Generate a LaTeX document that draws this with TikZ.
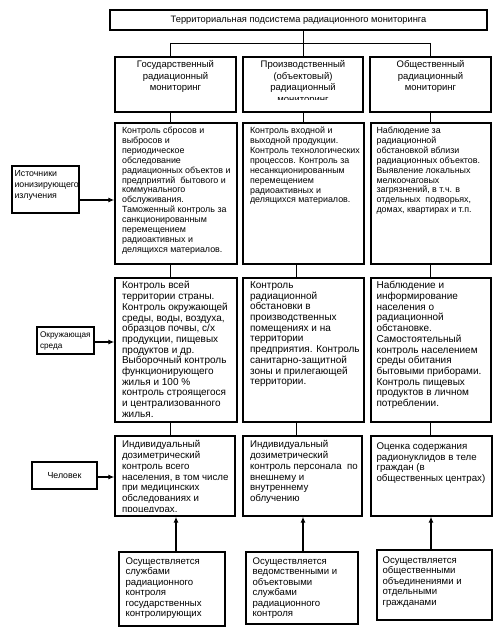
\documentclass[tikz,border=0pt]{standalone}
\usepackage{fontspec}
\setmainfont{Liberation Sans}
\usetikzlibrary{arrows.meta}
\newcommand\mybox[5]{\node[box, minimum width={#4-#2}, minimum height={#5-#3}] (#1) at ({(#2+#4)/2},{(#3+#5)/2}) {};}
\begin{document}
\begin{tikzpicture}[x=1pt,y=-1pt,
  box/.style={draw, line width=1.3pt, inner sep=0pt},
  conn/.style={line width=0.9pt},
  arr/.style={line width=1.6pt, -{Latex[length=6pt,width=5pt]}},
  txt/.style={inner sep=0pt, align=left, anchor=north west},
  fT/.style={inner sep=0pt, font={\fontsize{9.3}{11}\selectfont}},
  fH/.style={inner sep=0pt, align=center, anchor=north, font={\fontsize{9.5}{11.5}\selectfont}},
  fA/.style={txt, font={\fontsize{8.9}{9.9}\selectfont}},
  fB/.style={txt, font={\fontsize{10}{10.7}\selectfont}},
  fC/.style={txt, font={\fontsize{9.7}{10.8}\selectfont}},
  fD/.style={txt, font={\fontsize{9.6}{10.5}\selectfont}},
  fL/.style={txt, font={\fontsize{8.8}{11}\selectfont}},
]
\useasboundingbox (0,0) rectangle (500,639);

% title
\mybox{title}{110}{10}{487}{30}
\node[fT] (title-t) at (title.center) {Территориальная подсистема радиационного мониторинга};

% headers
\mybox{h1}{115}{57}{236}{112}
\mybox{h2}{243}{57}{363}{112}
\mybox{h3}{370}{57}{491}{112}
\node[fH] (h1-t) at ([shift={(0,4)}]h1.north) {Государственный\\радиационный\\мониторинг};
\begin{scope}
  \clip (243,57) rectangle (363,100);
  \node[fH] (h2-t) at ([shift={(0,4)}]h2.north) {Производственный\\(объектовый)\\радиационный\\мониторинг};
\end{scope}
\node[fH] (h3-t) at ([shift={(0,4)}]h3.north) {Общественный\\радиационный\\мониторинг};

% row 1
\mybox{r1a}{115}{123}{237}{264}
\mybox{r1b}{243}{123}{364}{264}
\mybox{r1c}{371}{123}{491}{264}
\node[fA] (r1a-t) at ([shift={(7.5,4.5)}]r1a.north west) {Контроль сбросов и\\выбросов и\\периодическое\\обследование\\радиационных объектов и\\предприятий\ \ бытового и\\коммунального\\обслуживания.\\Таможенный контроль за\\санкционированным\\перемещением\\радиоактивных и\\делящихся материалов.};
\node[fA] (r1b-t) at ([shift={(7.5,4.5)}]r1b.north west) {Контроль входной и\\выходной продукции.\\Контроль технологических\\процессов. Контроль за\\несанкционированным\\перемещением\\радиоактивных и\\делящихся материалов.};
\node[fA] (r1c-t) at ([shift={(6,4.5)}]r1c.north west) {Наблюдение за\\радиационной\\обстановкой вблизи\\радиационных объектов.\\Выявление локальных\\мелкоочаговых\\загрязнений, в т.ч. в\\отдельных\ \ подворьях,\\домах, квартирах и т.п.};

% row 2
\mybox{r2a}{115}{278}{237}{422}
\mybox{r2b}{243}{278}{364}{422}
\mybox{r2c}{371}{278}{491}{422}
\node[fB] (r2a-t) at ([shift={(7.5,4)}]r2a.north west) {Контроль всей\\территории страны.\\Контроль окружающей\\среды, воды, воздуха,\\образцов почвы, с/х\\продукции, пищевых\\продуктов и др.\\Выборочный контроль\\функционирующего\\жилья и 100 \%\\контроль строящегося\\и централизованного\\жилья.};
\node[fB] (r2b-t) at ([shift={(7.5,4)}]r2b.north west) {Контроль\\радиационной\\обстановки в\\производственных\\помещениях и на\\территории\\предприятия. Контроль\\санитарно-защитной\\зоны и прилегающей\\территории.};
\node[fB] (r2c-t) at ([shift={(6,4)}]r2c.north west) {Наблюдение и\\информирование\\населения о\\радиационной\\обстановке.\\Самостоятельный\\контроль населением\\среды обитания\\бытовыми приборами.\\Контроль пищевых\\продуктов в личном\\потреблении.};

% row 3
\mybox{r3a}{115}{436}{235}{516}
\mybox{r3b}{243}{436}{362}{516}
\mybox{r3c}{371}{436}{492}{516}
\begin{scope}
  \clip (116,437) rectangle (234,511);
  \node[fC] (r3a-t) at ([shift={(7.5,5)}]r3a.north west) {Индивидуальный\\дозиметрический\\контроль всего\\населения, в том числе\\при медицинских\\обследованиях и\\процедурах.};
\end{scope}
\node[fC] (r3b-t) at ([shift={(7.5,5)}]r3b.north west) {Индивидуальный\\дозиметрический\\контроль персонала\ \ по\\внешнему и\\внутреннему\\облучению};
\node[fC] (r3c-t) at ([shift={(6,7)}]r3c.north west) {Оценка содержания\\радионуклидов в теле\\граждан (в\\общественных центрах)};

% bottom boxes
\mybox{s1}{119}{552}{225}{626}
\mybox{s2}{246}{552}{358}{624}
\mybox{s3}{377}{550}{492}{620}
\node[fD] (s1-t) at ([shift={(7,6)}]s1.north west) {Осуществляется\\службами\\радиационного\\контроля\\государственных\\контролирующих};
\node[fD] (s2-t) at ([shift={(7,6)}]s2.north west) {Осуществляется\\ведомственными и\\объектовыми\\службами\\радиационного\\контроля};
\node[fD] (s3-t) at ([shift={(6,7)}]s3.north west) {Осуществляется\\общественными\\объединениями и\\отдельными\\гражданами};

% left boxes
\mybox{L1}{12}{166}{79}{213}
\mybox{L2}{37}{327}{94}{354}
\mybox{L3}{32}{462}{97}{489}
\node[fL] (L1-t) at ([shift={(3,5)}]L1.north west) {Источники\\ионизирующего\\излучения};
\node[txt, font={\fontsize{8.2}{11}\selectfont}] (L2-t) at ([shift={(3.5,5)}]L2.north west) {Окружающая\\среда};
\node[inner sep=0pt, font={\fontsize{8.8}{11}\selectfont}] (L3-t) at (L3.center) {Человек};

% coordinates
\coordinate (b1) at (170,43);
\coordinate (b2) at (303,43);
\coordinate (b3) at (430,43);
\coordinate (k2b) at (296,0);
\coordinate (a1) at (176,0);
\coordinate (a2) at (303,0);
\coordinate (a3) at (431,0);
\coordinate (y1) at (0,200);
\coordinate (y2) at (0,342);
\coordinate (y3) at (0,477);

% tree connectors
\draw[conn] (title.south -| b2) -- (b2);
\draw[conn] (b1) -- (b3);
\draw[conn] (b1) -- (h1.north -| b1);
\draw[conn] (b2) -- (h2.north -| b2);
\draw[conn] (b3) -- (h3.north -| b3);
\draw[conn] (h1.south -| b1) -- (r1a.north -| b1);
\draw[conn] (h2.south -| b2) -- (r1b.north -| b2);
\draw[conn] (h3.south -| b3) -- (r1c.north -| b3);
\draw[conn] (r1a.south -| b1) -- (r2a.north -| b1);
\draw[conn] (r1b.south -| k2b) -- (r2b.north -| k2b);
\draw[conn] (r1c.south -| b3) -- (r2c.north -| b3);
\draw[conn] (r2a.south -| b1) -- (r3a.north -| b1);
\draw[conn] (r2b.south -| k2b) -- (r3b.north -| k2b);
\draw[conn] (r2c.south -| b3) -- (r3c.north -| b3);

% arrows from bottom boxes
\draw[arr] (s1.north -| a1) -- (r3a.south -| a1);
\draw[arr] (s2.north -| a2) -- (r3b.south -| a2);
\draw[arr] (s3.north -| a3) -- (r3c.south -| a3);

% arrows from left boxes
\draw[arr] (L1.east |- y1) -- (r1a.west |- y1);
\draw[arr] (L2.east |- y2) -- (r2a.west |- y2);
\draw[arr] (L3.east |- y3) -- (r3a.west |- y3);
\end{tikzpicture}
\end{document}
